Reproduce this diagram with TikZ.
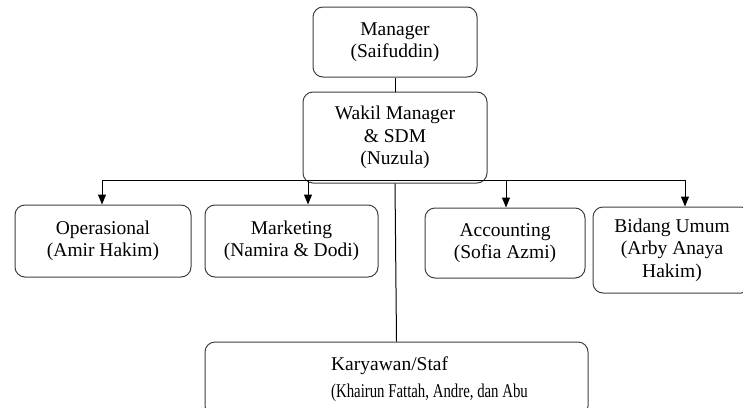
\documentclass[tikz,border=0pt]{standalone}
\usepackage{fontspec}
\usepackage{graphicx}
\setmainfont{Liberation Serif}
\usetikzlibrary{arrows.meta}
\tikzset{
  orgbox/.style={draw=black!75, line width=1pt, rounded corners=10pt, align=center,
    inner sep=0pt, font=\fontsize{19.5}{22.5}\selectfont, text=black},
  link/.style={draw=black, line width=1pt},
  arr/.style={link, -{Triangle[length=10pt,width=8pt]}}
}
\begin{document}
\begin{tikzpicture}[x=1pt,y=-1pt]
\useasboundingbox (0,0) rectangle (743,407);
\clip (0,0) rectangle (743,407);
\fill[white] (0,0) rectangle (743,407);
% nodes
\node[orgbox, minimum width=164, minimum height=70] (mgr) at (395,42) {Manager\\(Saifuddin)};
\node[orgbox, minimum width=184, minimum height=91] (wakil) at (395,137.5) {Wakil Manager\\\& SDM\\(Nuzula)};
\node[orgbox, minimum width=176, minimum height=72] (ops) at (103,241) {Operasional\\(Amir Hakim)};
\node[orgbox, minimum width=173, minimum height=72] (mkt) at (291.5,241) {Marketing\\(Namira \& Dodi)};
\node[orgbox, minimum width=160, minimum height=70] (acc) at (505,243) {Accounting\\(Sofia Azmi)};
\node[orgbox, minimum width=158, minimum height=86] (umum) at (672,250) {Bidang Umum\\(Arby Anaya\\Hakim)};
\node[orgbox, align=left, minimum width=383, minimum height=74] (staf) at (396.5,379)
  {\hspace*{66pt}Karyawan/Staf\\[5pt]\hspace*{66pt}\scalebox{0.76}[1]{(Khairun Fattah, Andre, dan Abu}};
% connectors
\draw[link] (mgr.south) -- (wakil.north);
\coordinate (busL) at (102,180);
\coordinate (busM) at (308,180);
\coordinate (busA) at (506,180);
\coordinate (busR) at (685,180);
\draw[link] (busL) -- (busR);
\draw[arr] (busL) -- (busL |- ops.north);
\draw[arr] (busM) -- (busM |- mkt.north);
\draw[arr] (busA) -- (busA |- acc.north);
\draw[arr] (busR) -- (busR |- umum.north);
\draw[link] (wakil.south) -- (staf.north);
\end{tikzpicture}
\end{document}
